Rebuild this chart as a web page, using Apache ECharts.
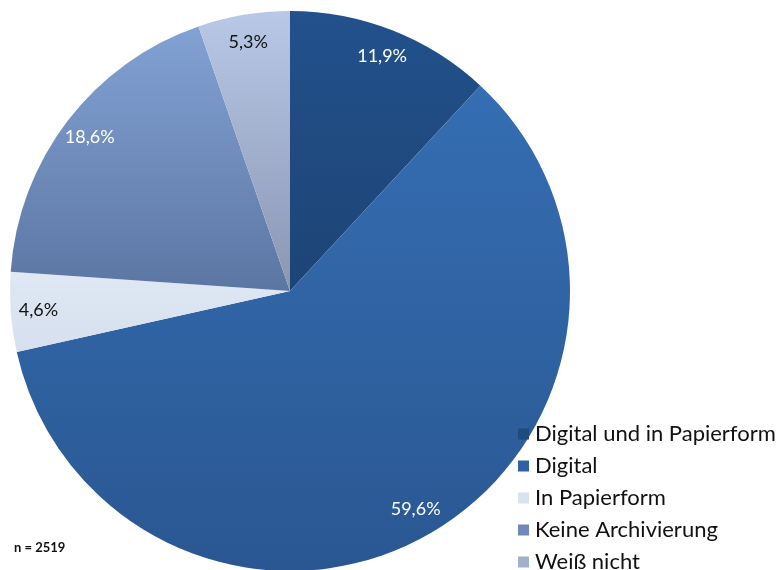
<!DOCTYPE html>
<html>
<head>
<meta charset="utf-8">
<script src="https://cdn.jsdelivr.net/npm/echarts@6/dist/echarts.min.js"></script>
<style>
html,body{margin:0;padding:0;background:#fff;}
#chart{width:777px;height:570px;}
</style>
</head>
<body>
<div id="chart"></div>
<script>
const categories = ['Digital und in Papierform', 'Digital', 'In Papierform', 'Keine Archivierung', 'Weiß nicht'];
const values = [11.9, 59.6, 4.6, 18.6, 5.3];
const sampleNote = 'n = 2519';

const topColors = ['#22518c', '#356eb3', '#dfe8f4', '#82a2d4', '#b8c8e6'];
const bottomColors = ['#1d4475', '#2a5792', '#d6e0ee', '#5c76a3', '#8a96b2'];
const legendColors = ['#1f4a7e', '#2f62a3', '#d9e3f0', '#7089b8', '#a3b0cc'];
const labelColors = ['#ffffff', '#ffffff', '#111111', '#ffffff', '#111111'];

function grad(i) {
  return new echarts.graphic.LinearGradient(0, 0, 0, 1, [
    {offset: 0, color: topColors[i]},
    {offset: 1, color: bottomColors[i]}
  ]);
}

const FONT = 'Lato, "Open Sans", sans-serif';
const cx = 290, cy = 291, R = 280;

const mainData = categories.map((c, i) => ({
  name: c, value: values[i],
  itemStyle: {color: grad(i)}
}));
const labelData = categories.map((c, i) => ({
  name: c, value: values[i],
  label: {color: labelColors[i]}
}));

const chart = echarts.init(document.getElementById('chart'), null, {renderer: 'canvas'});
chart.setOption({
  animation: false,
  backgroundColor: '#ffffff',
  color: legendColors,
  legend: {
    orient: 'vertical',
    left: 518,
    top: 423,
    height: 300,
    padding: 0,
    itemWidth: 11,
    itemHeight: 11,
    itemGap: 10,
    icon: 'rect',
    textStyle: {fontFamily: FONT, fontSize: 22, color: '#111', padding: [0, 0, 0, 1]},
    data: categories.map((c, i) => ({name: c, itemStyle: {color: legendColors[i]}}))
  },
  graphic: [{
    type: 'text', left: 14, top: 541,
    style: {text: sampleNote, font: 'bold 13px ' + FONT, fill: '#111'}
  }],
  series: [{
    type: 'pie',
    center: [cx, cy],
    radius: [0, R],
    startAngle: 90,
    clockwise: true,
    silent: true,
    label: {show: false},
    labelLine: {show: false},
    itemStyle: {borderWidth: 0},
    data: mainData
  }, {
    type: 'pie',
    center: [cx, cy],
    radius: [R * 0.78, R],
    startAngle: 90,
    clockwise: true,
    silent: true,
    itemStyle: {color: 'rgba(0,0,0,0)', borderWidth: 0},
    label: {
      show: true,
      position: 'inside',
      fontFamily: FONT,
      fontSize: 18,
      formatter: p => p.value.toFixed(1).replace('.', ',') + '%'
    },
    labelLine: {show: false},
    data: labelData
  }]
});
</script>
</body>
</html>
